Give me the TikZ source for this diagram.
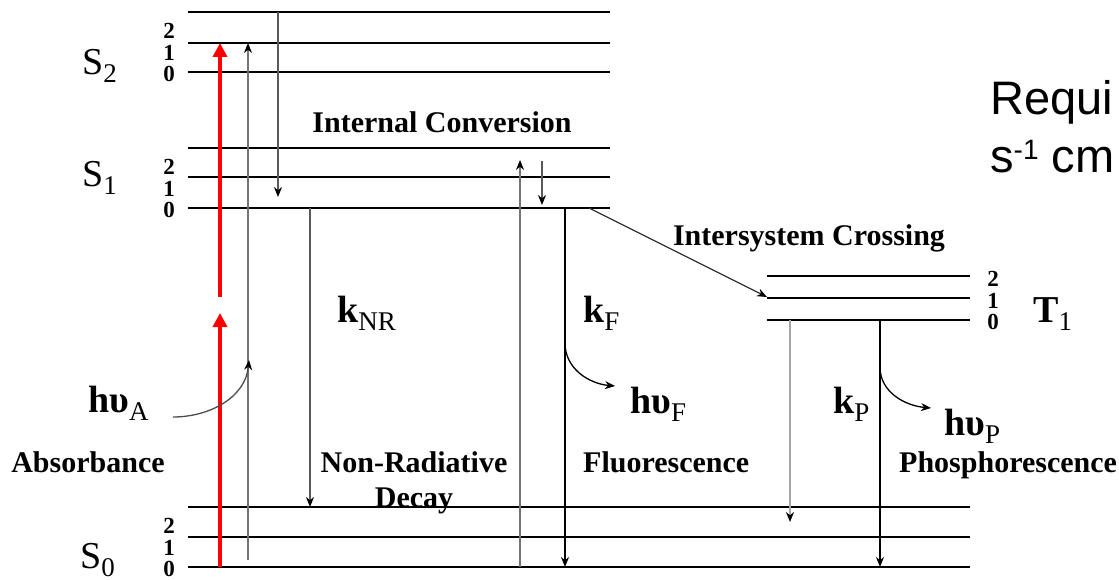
\documentclass[tikz,border=0pt]{standalone}
\usepackage{fontspec}
\setmainfont{Liberation Serif}
\newfontfamily\sansfam{Liberation Sans}
\usetikzlibrary{arrows.meta, positioning}
\newcommand{\dn}[1]{\raisebox{-8pt}{\fontsize{27}{27}\selectfont\mdseries #1}}
\newcommand{\up}[1]{\raisebox{13pt}{\fontsize{28}{28}\selectfont #1}}

\begin{document}
\begin{tikzpicture}[x=1pt, y=-1pt,
    lvl/.style={line width=2pt},
    trans/.style={line width=1.3pt, -{Stealth[length=10pt, width=8pt, color=black]}},
    lab/.style={inner sep=0, font=\fontsize{30}{35}\selectfont\bfseries},
    big/.style={inner sep=0, anchor=base west, font=\fontsize{38}{40}\selectfont},
    vib/.style={inner sep=0, anchor=south, align=center, font=\fontsize{23}{21.5}\selectfont\bfseries}]
  \useasboundingbox (0,0) rectangle (1119,580);
  \clip (0,0) rectangle (1119,580);
  % vibrational levels
  \foreach \n/\y in {s22/12, s21/43, s20/72, s12/148, s11/177, s10/208}
    \draw[lvl] (188,\y) coordinate (\n) -- (610,\y);
  \foreach \n/\y in {s02/507, s01/537, s00/567}
    \draw[lvl] (188,\y) coordinate (\n) -- (970,\y);
  \foreach \n/\y in {t12/276, t11/298, t10/320}
    \draw[lvl] (767,\y) coordinate (\n) -- (970,\y);
  \foreach \n/\x/\y in {d2/169/72, d1/169/208, d0/169/567, dt/993/320}
    \node[vib] (\n) at (\x,\y+10) {2\\1\\0};
  % state labels
  \node[big] (ls2) at (82,75) {S\dn{2}};
  \node[big] (ls1) at (82,187) {S\dn{1}};
  \node[big] (ls0) at (80,568) {S\dn{0}};
  \node[big] (lt1) at (1033,322) {\textbf{T}\dn{1}};
  \node[big] (knr) at (337,322) {\textbf{k}\dn{NR}};
  \node[big] (kf) at (583,322) {\textbf{k}\dn{F}};
  \node[big] (kp) at (833,413) {\textbf{k}\dn{P}};
  \node[big] (hva) at (88,412) {\textbf{hυ}\dn{A}};
  \node[big] (hvf) at (630,413) {\textbf{hυ}\dn{F}};
  \node[big] (hvp) at (944,435) {\textbf{hυ}\dn{P}};
  \node[lab, anchor=base] (ic) at (442,133) {Internal Conversion};
  \node[lab, anchor=base] (isc) at (809,246) {Intersystem Crossing};
  \node[lab, anchor=base] (abs) at (88,472) {Absorbance};
  \node[lab, anchor=base] (nrd) at (414,472) {Non-Radiative};
  \node[lab] (dec) [below=15pt of nrd] {Decay};
  \node[lab, anchor=base west] (fl) at (583,472) {Fluorescence};
  \node[lab, anchor=base west] (ph) at (899,472) {Phosphorescence};
  \node[inner sep=0, anchor=base west, font=\sansfam\fontsize{47}{50}\selectfont] (req) at (990,115) {Requi};
  \node[inner sep=0, anchor=base west, font=\sansfam\fontsize{47}{50}\selectfont] (unit) at (990,173) {s\up{-1} cm};
  % arrow ends
  \coordinate (r0) at (220,567); \coordinate (r1) at (220,313);
  \coordinate (r2) at (220,297); \coordinate (r3) at (220,43);
  \coordinate (u0) at (248,560); \coordinate (u1) at (248,43);
  \coordinate (ha0) at (173,417); \coordinate (ha1) at (249,360);
  \coordinate (ic0) at (278,12); \coordinate (ic1) at (278,197);
  \coordinate (nr0) at (310,208); \coordinate (nr1) at (310,507);
  \coordinate (v0) at (520,567); \coordinate (v1) at (520,160);
  \coordinate (w0) at (542,161); \coordinate (w1) at (542,205);
  \coordinate (f0) at (565,208); \coordinate (f1) at (565,567);
  \coordinate (f2) at (565,343); \coordinate (f3) at (615,386);
  \coordinate (isc0) at (589,208); \coordinate (isc1) at (767,297);
  \coordinate (q0) at (790,320); \coordinate (q1) at (790,522);
  \coordinate (p0) at (880,320); \coordinate (p1) at (880,567);
  \coordinate (p2) at (880,367); \coordinate (p3) at (931,408);
  % transitions
  \draw[red, line width=4.5pt, -{Triangle[length=14pt, width=14pt]}] (r0) -- (r1);
  \draw[red, line width=4.5pt, -{Triangle[length=14pt, width=14pt]}] (r2) -- (r3);
  \draw[trans, black!55] (u0) -- (u1);
  \draw[trans, black!70] (ha0) to[out=0, in=-95] (ha1);
  \draw[trans, black!65] (ic0) -- (ic1);
  \draw[trans, black!65] (nr0) -- (nr1);
  \draw[trans, black!55] (v0) -- (v1);
  \draw[trans, black!65] (w0) -- (w1);
  \draw[trans] (f0) -- (f1);
  \draw[trans] (f2) to[out=-90, in=175] (f3);
  \draw[trans, black!80] (isc0) -- (isc1);
  \draw[trans, black!35] (q0) -- (q1);
  \draw[trans] (p0) -- (p1);
  \draw[trans] (p2) to[out=-90, in=175] (p3);
\end{tikzpicture}
\end{document}
